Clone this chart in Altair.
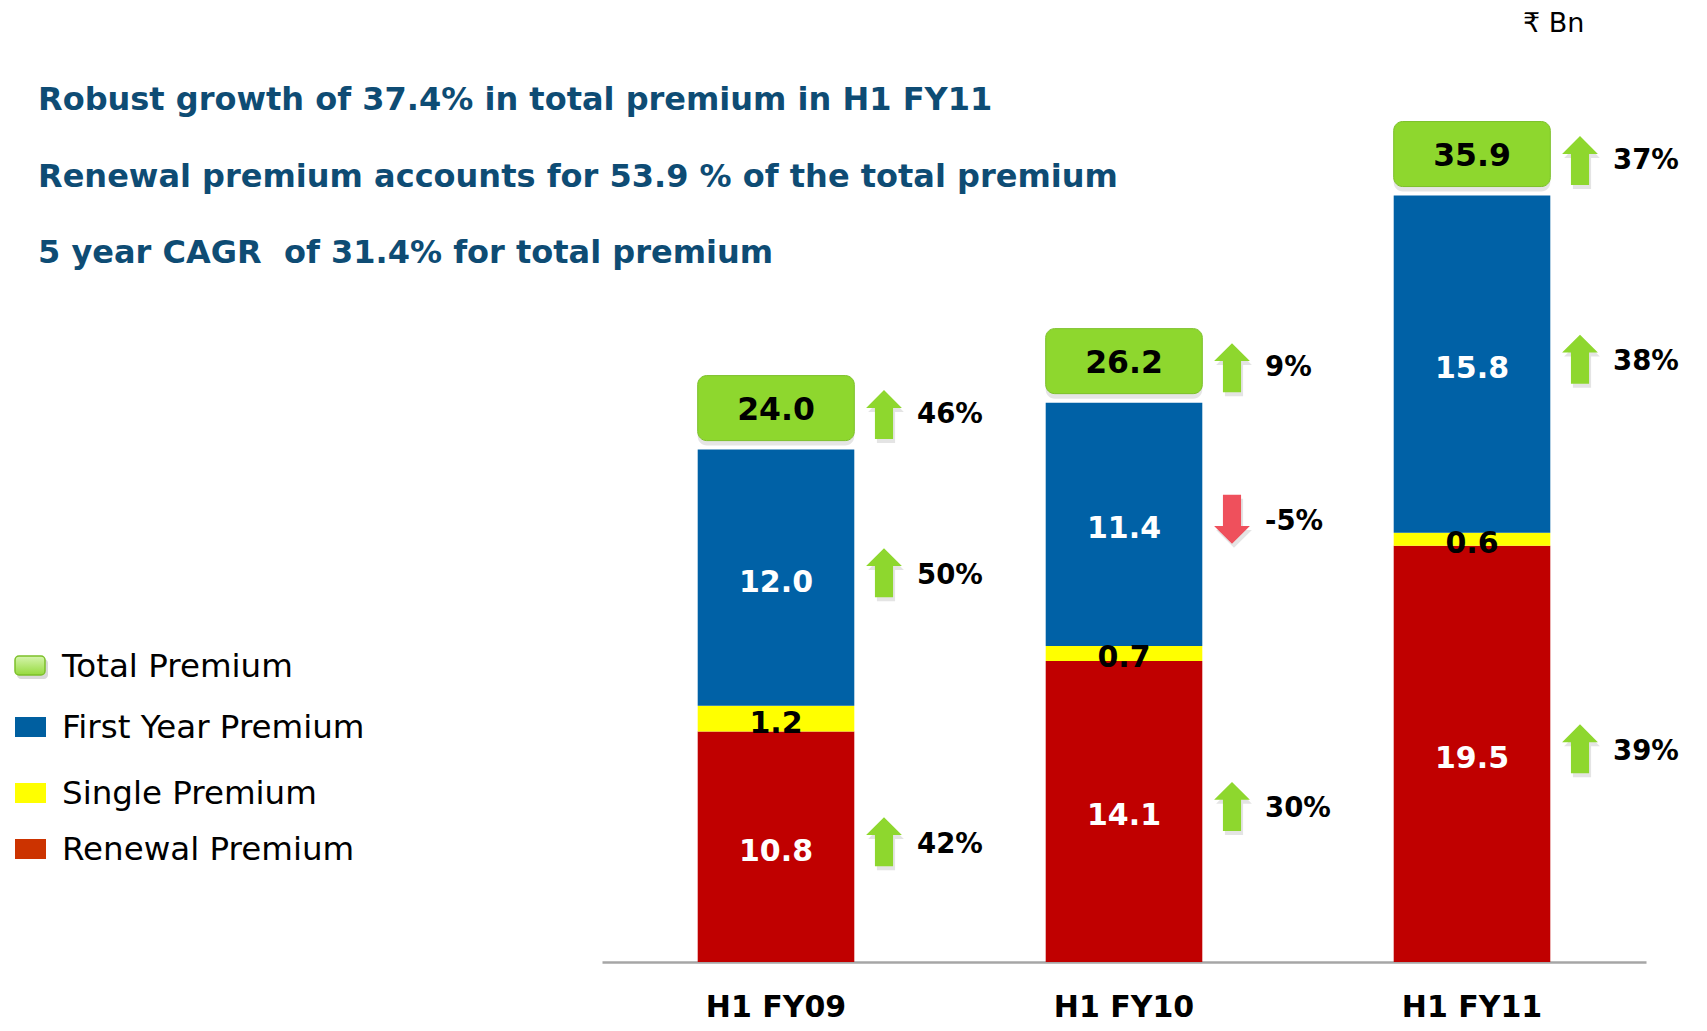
import altair as alt
import pandas as pd

# ---------------- data ----------------
periods = ["H1 FY09", "H1 FY10", "H1 FY11"]
renewal = [10.8, 14.1, 19.5]
single = [1.2, 0.7, 0.6]
first_year = [12.0, 11.4, 15.8]
total = [24.0, 26.2, 35.9]
growth_total = ["46%", "9%", "37%"]
growth_first_year = ["50%", "-5%", "38%"]
growth_renewal = ["42%", "30%", "39%"]

headlines = [
    "Robust growth of 37.4% in total premium in H1 FY11",
    "Renewal premium accounts for 53.9 % of the total premium",
    "5 year CAGR\u00a0 of 31.4% for total premium",
]
unit_label = "₹ Bn"
legend_labels = ["Total Premium", "First Year Premium", "Single Premium", "Renewal Premium"]
series_order = ["Renewal Premium", "Single Premium", "First Year Premium"]

# ---------------- styles ----------------
FONT = "DejaVu Sans"
C_RENEW = "#C00000"
C_SINGLE = "#FFFF00"
C_FIRST = "#0061A6"
C_GREEN = "#8ED72E"
C_GREEN_DARK = "#7CC02A"
C_DOWN = "#EF505C"
HEAD_COLOR = "#0E4C74"
label_colors = {"Renewal Premium": "white", "Single Premium": "black", "First Year Premium": "white"}
legend_colors = {"First Year Premium": "#005FA0", "Single Premium": "#FFFF00", "Renewal Premium": "#CC3300"}

UP = "M-0.37,1 L0.37,1 L0.37,-0.27 L0.73,-0.27 L0,-1 L-0.73,-0.27 L-0.37,-0.27 Z"
DOWN = "M-0.37,-1 L0.37,-1 L0.37,0.27 L0.73,0.27 L0,1 L-0.73,0.27 L-0.37,0.27 Z"

TOP = 12  # svg y of plot top

# ---------------- tables ----------------
seg_rows = []
for i, p in enumerate(periods):
    base = 0.0
    for name, vals in zip(series_order, [renewal, single, first_year]):
        v = vals[i]
        seg_rows.append(dict(period=p, series=name, y0=base, y1=base + v, mid=base + v / 2,
                             label=f"{v:.1f}", tcolor=label_colors[name]))
        base += v
seg = pd.DataFrame(seg_rows)

tot = pd.DataFrame(dict(period=periods, total=total, label=[f"{t:.1f}" for t in total],
                        pct=growth_total,
                        dir=["down" if g.startswith("-") else "up" for g in growth_total]))

arr_rows = []
for i, p in enumerate(periods):
    for name, g in [("First Year Premium", growth_first_year[i]), ("Renewal Premium", growth_renewal[i])]:
        mid = seg[(seg.period == p) & (seg.series == name)].mid.iloc[0]
        arr_rows.append(dict(period=p, y=mid, pct=g, dir="down" if g.startswith("-") else "up"))
arr = pd.DataFrame(arr_rows)

# ---------------- scales ----------------
xscale = alt.Scale(domain=periods, paddingInner=0.55, paddingOuter=0.275)
yscale = alt.Scale(domain=[0, (954 - TOP) / 21.35], nice=False, zero=True)
xaxis = alt.Axis(title=None, labelFont=FONT, labelFontSize=30, labelFontWeight="bold",
                 labelColor="black", labelAngle=0, labelPadding=54,
                 labelBaseline="alphabetic", ticks=False, tickSize=0,
                 domainColor="#A6A6A6", domainWidth=2.5, grid=False)
X = alt.X("period:N", sort=periods, scale=xscale, axis=xaxis)
shape_scale = alt.Scale(domain=["up", "down"], range=[UP, DOWN])
fill_scale = alt.Scale(domain=["up", "down"], range=[C_GREEN, C_DOWN])

ARROW_DX = 108
PCT_DX = 141

bars = alt.Chart(seg).mark_bar(strokeWidth=0).encode(
    x=X,
    y=alt.Y("y1:Q", scale=yscale, axis=None),
    y2="y0:Q",
    color=alt.Color("series:N", scale=alt.Scale(domain=series_order, range=[C_RENEW, C_SINGLE, C_FIRST]),
                    legend=None),
)

seg_text = alt.Chart(seg).mark_text(font=FONT, fontWeight="bold", fontSize=30, baseline="middle",
                                    dy=5).encode(
    x=X, y=alt.Y("mid:Q", scale=yscale, axis=None), text="label:N",
    color=alt.Color("tcolor:N", scale=None),
)

box_shadow = alt.Chart(tot).mark_bar(cornerRadius=9, yOffset=-70, y2Offset=-4, color="black",
                                     opacity=0.10).encode(
    x=X, y=alt.Y("total:Q", scale=yscale, axis=None), y2="total:Q")

box = alt.Chart(tot).mark_bar(cornerRadius=9, yOffset=-74, y2Offset=-9, color=C_GREEN,
                              stroke=C_GREEN_DARK, strokeWidth=1).encode(
    x=X, y=alt.Y("total:Q", scale=yscale, axis=None), y2="total:Q")

box_text = alt.Chart(tot).mark_text(font=FONT, fontWeight="bold", fontSize=31.5, baseline="middle",
                                    yOffset=-39, color="black").encode(
    x=X, y=alt.Y("total:Q", scale=yscale, axis=None), text="label:N")


def arrow_layers(df, yfield, dy_arrow, dy_text):
    sh = alt.Chart(df).mark_point(filled=True, size=2401, opacity=0.16, strokeWidth=0, color="#555555",
                                  xOffset=ARROW_DX + 2, yOffset=dy_arrow + 4).encode(
        x=X, y=alt.Y(f"{yfield}:Q", scale=yscale, axis=None),
        shape=alt.Shape("dir:N", scale=shape_scale, legend=None))
    ar = alt.Chart(df).mark_point(filled=True, size=2401, opacity=1, strokeWidth=0,
                                  xOffset=ARROW_DX, yOffset=dy_arrow).encode(
        x=X, y=alt.Y(f"{yfield}:Q", scale=yscale, axis=None),
        shape=alt.Shape("dir:N", scale=shape_scale, legend=None),
        fill=alt.Fill("dir:N", scale=fill_scale, legend=None))
    tx = alt.Chart(df).mark_text(font=FONT, fontWeight="bold", fontSize=27.5, align="left",
                                 baseline="middle", xOffset=PCT_DX, yOffset=dy_text, color="black").encode(
        x=X, y=alt.Y(f"{yfield}:Q", scale=yscale, axis=None), text="pct:N")
    return [sh, ar, tx]


dummy = pd.DataFrame({"a": [0]})
decor = []
for txt, yy in zip(headlines, [92, 169, 245]):
    decor.append(alt.Chart(dummy).mark_text(text=txt, font=FONT, fontWeight="bold", fontSize=32,
                                            color=HEAD_COLOR, align="left", baseline="middle").encode(
        x=alt.value(-564), y=alt.value(yy - TOP)))
decor.append(alt.Chart(dummy).mark_text(text=unit_label, font=FONT, fontSize=27, color="black",
                                        align="left", baseline="middle").encode(
    x=alt.value(921), y=alt.value(16 - TOP)))

leg_y = [658, 719, 785, 841]
for lab, yc in zip(legend_labels, leg_y):
    yc = yc - TOP
    if lab == "Total Premium":
        decor.append(alt.Chart(dummy).mark_rect(cornerRadius=4, color="black", opacity=0.15).encode(
            x=alt.value(-585), x2=alt.value(-554), y=alt.value(yc - 7), y2=alt.value(yc + 13)))
        decor.append(alt.Chart(dummy).mark_rect(
            cornerRadius=4, stroke=C_GREEN_DARK, strokeWidth=1.5,
            fill=alt.Gradient(gradient="linear", x1=0, x2=0, y1=0, y2=1,
                              stops=[alt.GradientStop(color="#D6F5AE", offset=0),
                                     alt.GradientStop(color="#96DA3E", offset=1)])).encode(
            x=alt.value(-587), x2=alt.value(-557), y=alt.value(yc - 10), y2=alt.value(yc + 9)))
    else:
        decor.append(alt.Chart(dummy).mark_rect(color=legend_colors[lab]).encode(
            x=alt.value(-587), x2=alt.value(-556), y=alt.value(yc - 10), y2=alt.value(yc + 10)))
    decor.append(alt.Chart(dummy).mark_text(text=lab, font=FONT, fontSize=32.5, color="black",
                                            align="left", baseline="middle").encode(
        x=alt.value(-540), y=alt.value(yc + 1)))

layers = [bars, seg_text, box_shadow, box, box_text]
layers += arrow_layers(tot, "total", -35, -35)
layers += arrow_layers(arr, "y", -5, -2)
layers += decor

chart = alt.layer(*layers).resolve_scale(color="independent").properties(
    width=1044, height=954 - TOP,
    autosize=alt.AutoSizeParams(type="none"),
    padding={"left": 594, "top": TOP, "right": 53, "bottom": 61},
    background="white",
).configure(font=FONT).configure_view(strokeWidth=0, stroke="transparent")

chart.save("out.html", embed_options={"renderer": "svg", "actions": False})
